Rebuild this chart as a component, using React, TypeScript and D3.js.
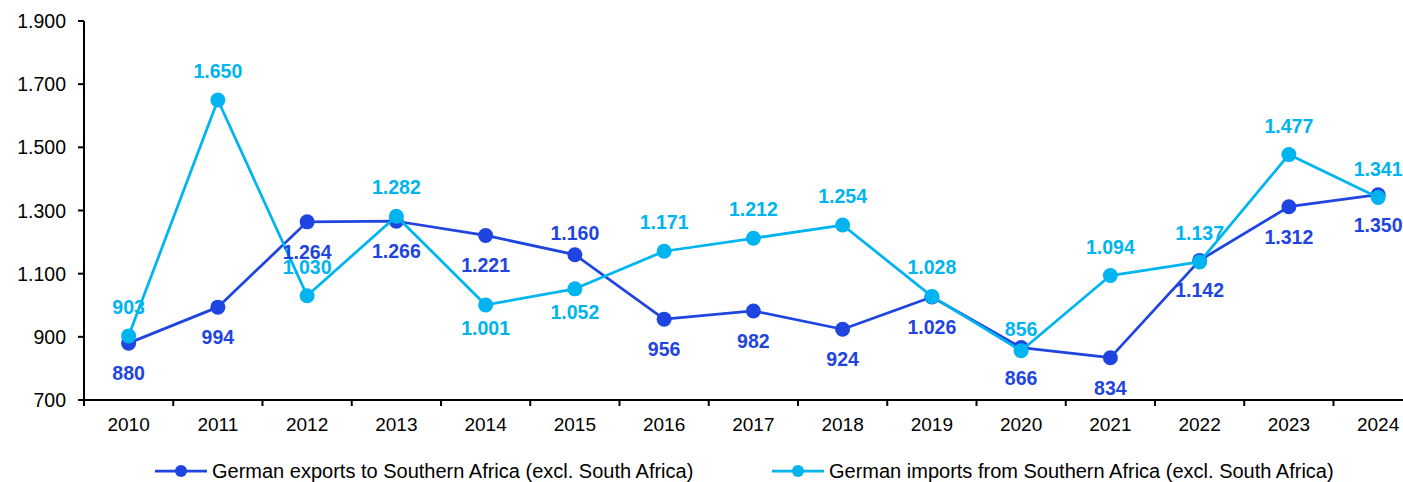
import React from "react";
import * as d3 from "d3";

// values (EUR m)
const years = ["2010", "2011", "2012", "2013", "2014", "2015", "2016", "2017", "2018", "2019", "2020", "2021", "2022", "2023", "2024"];
const exportsSA = [880, 994, 1264, 1266, 1221, 1160, 956, 982, 924, 1026, 866, 834, 1142, 1312, 1350];
const importsSA = [903, 1650, 1030, 1282, 1001, 1052, 1171, 1212, 1254, 1028, 856, 1094, 1137, 1477, 1341];
const yTicks = [700, 900, 1100, 1300, 1500, 1700, 1900];

// where each data label sits relative to its point
const exportsLabelPos = ["b", "b", "b", "b", "b", "t2", "b", "b", "b", "b", "b", "b", "b", "b", "b"];
const importsLabelPos = ["t", "t", "t", "t", "b2", "b2", "t", "t", "t", "t", "t2", "t", "t", "t", "t"];

const seriesNames = [
  "German exports to Southern Africa (excl. South Africa)",
  "German imports from Southern Africa (excl. South Africa)",
];

const W = 1403;
const H = 482;
const DARK = "#1F45E0";
const LIGHT = "#00B4F0";
const FONT = "Arial, 'Liberation Sans', Helvetica, sans-serif";

const locale = d3.formatLocale({ decimal: ",", thousands: ".", grouping: [3], currency: ["", "€"] });
const fmt = locale.format(",");

const labelDy: Record<string, number> = { t: -22, t2: -15, b: 37, b2: 30 };

export default function App() {
  const x = d3.scaleBand<string>().domain(years).range([84, 84 + 15 * 89.25]).padding(0);
  const y = d3.scaleLinear().domain([700, 1900]).range([400, 21]);
  const cx = (yr: string) => (x(yr) as number) + x.bandwidth() / 2;

  const line = d3
    .line<number>()
    .x((_, i) => cx(years[i]))
    .y((d) => y(d));

  const series = [
    { values: exportsSA, color: DARK, pos: exportsLabelPos },
    { values: importsSA, color: LIGHT, pos: importsLabelPos },
  ];

  const [r0, r1] = x.range();
  const boundaries = years.map((yr) => x(yr) as number).concat([r1]);

  return (
    <div style={{ position: "absolute", left: 0, top: 0 }}>
      <svg width={W} height={H} style={{ display: "block", background: "#fff", overflow: "hidden" }} fontFamily={FONT}>
        {/* y axis */}
        <line x1={r0} x2={r0} y1={y(1900)} y2={y(700)} stroke="#000" strokeWidth={2} />
        {yTicks.map((t) => (
          <g key={t}>
            <line x1={r0 - 6} x2={r0} y1={y(t)} y2={y(t)} stroke="#000" strokeWidth={2} />
            <text x={r0 - 18} y={y(t)} dy="0.36em" textAnchor="end" fontSize={19.5} fill="#000">
              {fmt(t)}
            </text>
          </g>
        ))}
        {/* x axis */}
        <line x1={r0 - 1} x2={r1} y1={y(700)} y2={y(700)} stroke="#000" strokeWidth={2} />
        {boundaries.map((bx, i) => (
          <line key={i} x1={bx} x2={bx} y1={y(700)} y2={y(700) + 6} stroke="#000" strokeWidth={2} />
        ))}
        {years.map((yr) => (
          <text key={yr} x={cx(yr)} y={431} textAnchor="middle" fontSize={19} fill="#000">
            {yr}
          </text>
        ))}

        {/* lines and markers */}
        {series.map((s, si) => (
          <g key={si}>
            <path d={line(s.values) || ""} fill="none" stroke={s.color} strokeWidth={2.75} strokeLinejoin="round" />
            {s.values.map((v, i) => (
              <circle key={i} cx={cx(years[i])} cy={y(v)} r={7.5} fill={s.color} />
            ))}
          </g>
        ))}

        {/* data labels */}
        {series.map((s, si) => (
          <g key={si}>
            {s.values.map((v, i) => (
              <text
                key={i}
                x={cx(years[i])}
                y={y(v) + labelDy[s.pos[i]]}
                textAnchor="middle"
                fontSize={19.5}
                fontWeight="bold"
                fill={s.color}
              >
                {fmt(v)}
              </text>
            ))}
          </g>
        ))}

        {/* legend */}
        {[
          { x0: 155, color: DARK, name: seriesNames[0] },
          { x0: 772, color: LIGHT, name: seriesNames[1] },
        ].map((l) => (
          <g key={l.name} transform={`translate(${l.x0},471)`}>
            <line x1={0} x2={52} y1={0} y2={0} stroke={l.color} strokeWidth={2.75} />
            <circle cx={26} cy={0} r={6} fill={l.color} />
            <text x={57} y={0} dy="0.36em" fontSize={20} fill="#000">
              {l.name}
            </text>
          </g>
        ))}
      </svg>
    </div>
  );
}
